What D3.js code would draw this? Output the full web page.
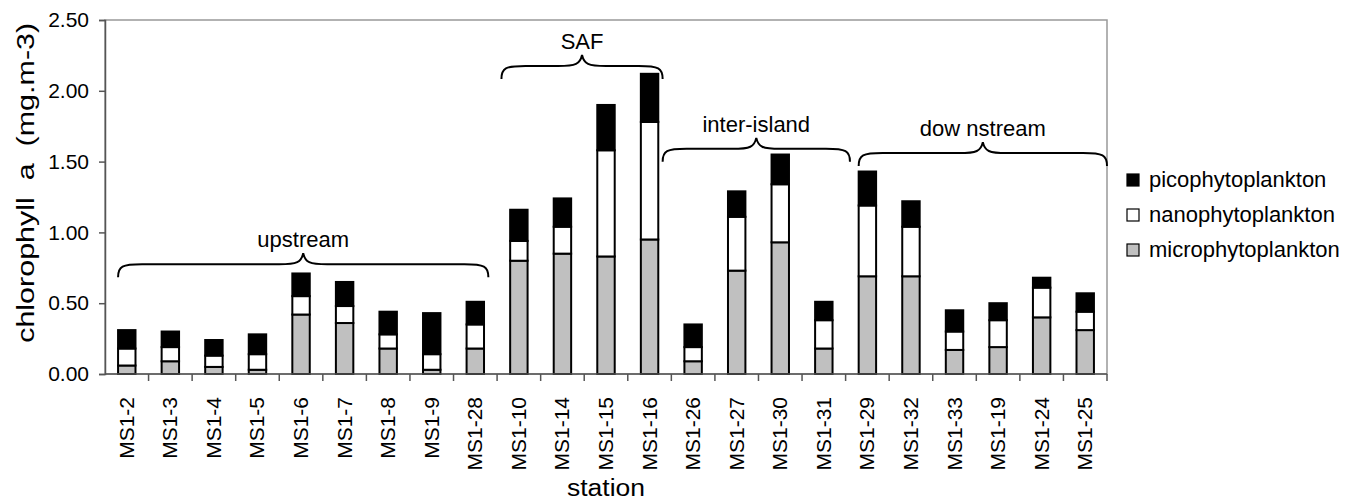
<!DOCTYPE html>
<html>
<head>
<meta charset="utf-8">
<script src="https://cdn.jsdelivr.net/npm/d3@7"></script>
<style>
  body { margin: 0; background: #fff; }
  text { font-family: "Liberation Sans", Arial, sans-serif; fill: #000; }
</style>
</head>
<body>
<div id="chart"></div>
<script>
// Stations along the transect
const stations = ["MS1-2", "MS1-3", "MS1-4", "MS1-5", "MS1-6", "MS1-7", "MS1-8", "MS1-9", "MS1-28",
  "MS1-10", "MS1-14", "MS1-15", "MS1-16", "MS1-26", "MS1-27", "MS1-30", "MS1-31",
  "MS1-29", "MS1-32", "MS1-33", "MS1-19", "MS1-24", "MS1-25"];

// size-fractionated chlorophyll a (mg.m-3)
const micro = [0.06, 0.09, 0.05, 0.03, 0.42, 0.36, 0.18, 0.03, 0.18,
  0.80, 0.85, 0.83, 0.95, 0.09, 0.73, 0.93, 0.18,
  0.69, 0.69, 0.17, 0.19, 0.40, 0.31];
const nano = [0.12, 0.10, 0.08, 0.11, 0.13, 0.12, 0.10, 0.11, 0.17,
  0.14, 0.19, 0.75, 0.83, 0.10, 0.38, 0.41, 0.20,
  0.50, 0.35, 0.13, 0.19, 0.21, 0.13];
const pico = [0.13, 0.11, 0.11, 0.14, 0.16, 0.17, 0.16, 0.29, 0.16,
  0.22, 0.20, 0.32, 0.34, 0.16, 0.18, 0.21, 0.13,
  0.24, 0.18, 0.15, 0.12, 0.07, 0.13];

const yTicks = [0, 0.5, 1.0, 1.5, 2.0, 2.5];

// region brackets: first/last station, label, bracket level (data units)
const regions = [
  {label: "upstream", from: "MS1-2", to: "MS1-28", level: 0.775},
  {label: "SAF", from: "MS1-10", to: "MS1-16", level: 2.175},
  {label: "inter-island", from: "MS1-26", to: "MS1-31", level: 1.59},
  {label: "dow nstream", from: "MS1-29", to: "MS1-25", level: 1.56}
];
// how far the bracket reaches past the first / last bar (in band steps)
const regionPad = [[0.0, 0.1], [0.2, 0.1], [0.5, 0.4], [0.0, 0.5]];

const series = [
  {key: "micro", name: "microphytoplankton", color: "#c0c0c0", values: micro},
  {key: "nano", name: "nanophytoplankton", color: "#ffffff", values: nano},
  {key: "pico", name: "picophytoplankton", color: "#000000", values: pico}
];

const width = 1356, height = 502;
const margin = {top: 20, right: 249, bottom: 128, left: 105};

const svg = d3.select("#chart").append("svg")
  .attr("width", width)
  .attr("height", height);

const x = d3.scaleBand()
  .domain(stations)
  .range([margin.left, width - margin.right])
  .paddingInner(0.6)
  .paddingOuter(0.3);

const y = d3.scaleLinear()
  .domain([0, 2.5])
  .range([height - margin.bottom, margin.top]);

// table for the stack
const table = stations.map((s, i) => {
  const row = {station: s};
  series.forEach(se => row[se.key] = se.values[i]);
  return row;
});
const stacked = d3.stack().keys(series.map(s => s.key))(table);

// plot frame (top and right in grey)
svg.append("rect")
  .attr("x", margin.left)
  .attr("y", margin.top)
  .attr("width", width - margin.right - margin.left)
  .attr("height", height - margin.bottom - margin.top)
  .attr("fill", "none")
  .attr("stroke", "#999")
  .attr("stroke-width", 1.5);

// bars
svg.append("g")
  .selectAll("g")
  .data(stacked)
  .join("g")
  .attr("fill", (d, i) => series[i].color)
  .selectAll("rect")
  .data(d => d)
  .join("rect")
  .attr("x", d => x(d.data.station))
  .attr("y", d => y(d[1]))
  .attr("width", x.bandwidth())
  .attr("height", d => y(d[0]) - y(d[1]))
  .attr("stroke", "#000")
  .attr("stroke-width", 2);

// y axis
const yAxis = svg.append("g")
  .attr("transform", `translate(${margin.left},0)`)
  .call(d3.axisLeft(y).tickValues(yTicks).tickFormat(d3.format(".2f")).tickSize(6).tickPadding(10));
yAxis.selectAll("text").style("font-size", "21px");
yAxis.select(".domain").attr("stroke", "#555").attr("stroke-width", 1.5);
yAxis.selectAll(".tick line").attr("stroke", "#555").attr("stroke-width", 1.5);

// x axis: ticks between the categories
const xAxis = svg.append("g")
  .attr("transform", `translate(0,${y(0)})`);
xAxis.append("line")
  .attr("x1", margin.left).attr("x2", width - margin.right)
  .attr("stroke", "#555").attr("stroke-width", 1.5);
const step = x.step();
xAxis.selectAll(".sep")
  .data(stations)
  .join("line")
  .attr("x1", d => x(d) + x.bandwidth() / 2 + step / 2)
  .attr("x2", d => x(d) + x.bandwidth() / 2 + step / 2)
  .attr("y1", 0).attr("y2", 7)
  .attr("stroke", "#555").attr("stroke-width", 1.5);
xAxis.selectAll(".lab")
  .data(stations)
  .join("text")
  .attr("transform", d => `translate(${x(d) + x.bandwidth() / 2 + 7},23) rotate(-90)`)
  .attr("text-anchor", "end")
  .style("font-size", "21px")
  .text(d => d);

// axis titles
svg.append("text")
  .attr("x", 606)
  .attr("y", 496)
  .attr("text-anchor", "middle")
  .attr("textLength", 78)
  .attr("lengthAdjust", "spacingAndGlyphs")
  .style("font-size", "23px")
  .text("station");

svg.append("text")
  .attr("transform", `translate(34,${y(1.35)}) rotate(-90)`)
  .attr("text-anchor", "middle")
  .attr("textLength", 320)
  .attr("lengthAdjust", "spacingAndGlyphs")
  .style("font-size", "23px")
  .style("white-space", "pre")
  .text("chlorophyll  a  (mg.m-3)");

// curly brackets above station groups
function bracketPath(x0, x1, yl) {
  const xm = (x0 + x1) / 2, drop = 13, peak = 11, r = 12;
  return `M${x0},${yl + drop}` +
    ` C${x0},${yl + 2} ${x0 + 4},${yl} ${x0 + r * 2},${yl}` +
    ` L${xm - r * 2},${yl}` +
    ` C${xm - 6},${yl} ${xm - 2},${yl - 2} ${xm},${yl - peak}` +
    ` C${xm + 2},${yl - 2} ${xm + 6},${yl} ${xm + r * 2},${yl}` +
    ` L${x1 - r * 2},${yl}` +
    ` C${x1 - 4},${yl} ${x1},${yl + 2} ${x1},${yl + drop}`;
}

const br = svg.append("g");
regions.forEach((r, i) => {
  const x0 = x(r.from) - regionPad[i][0] * step;
  const x1 = Math.min(x(r.to) + x.bandwidth() + regionPad[i][1] * step, width - margin.right);
  const yl = y(r.level);
  br.append("path")
    .attr("d", bracketPath(x0, x1, yl))
    .attr("fill", "none")
    .attr("stroke", "#000")
    .attr("stroke-width", 2);
  br.append("text")
    .attr("x", (x0 + x1) / 2)
    .attr("y", yl - 17)
    .attr("text-anchor", "middle")
    .style("font-size", "22px")
    .style("white-space", "pre")
    .text(r.label);
});

// legend (pico on top)
const legend = svg.append("g")
  .attr("transform", `translate(1127,174)`);
const legItems = series.slice().reverse();
legItems.forEach((s, i) => {
  const g = legend.append("g").attr("transform", `translate(0,${i * 35})`);
  g.append("rect")
    .attr("width", 12).attr("height", 12)
    .attr("fill", s.color)
    .attr("stroke", "#000").attr("stroke-width", 1.2);
  g.append("text")
    .attr("x", 22).attr("y", 13)
    .style("font-size", "22px")
    .text(s.name);
});
</script>
</body>
</html>
